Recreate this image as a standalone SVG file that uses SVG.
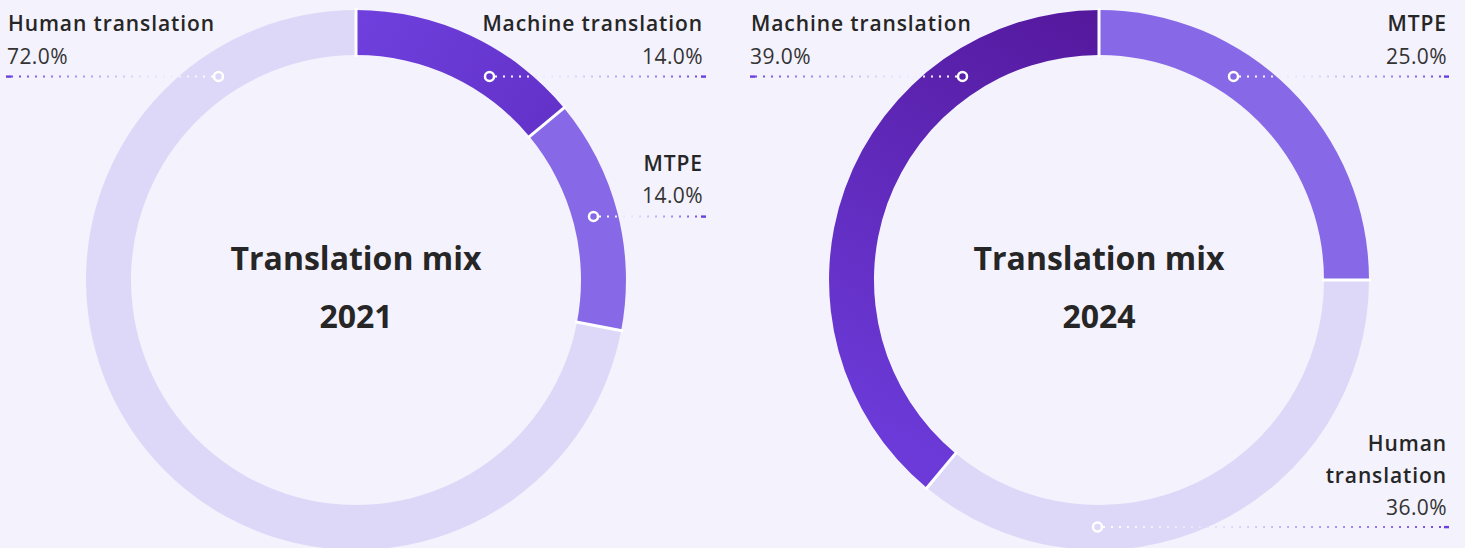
<svg xmlns="http://www.w3.org/2000/svg" width="1465" height="548" viewBox="0 0 1465 548">
  <style>
    .lbl { font-family: "Open Sans", "Liberation Sans", sans-serif; font-size: 21px; font-weight: 600; fill: #262626; letter-spacing: 0.9px; }
    .pct { font-family: "Open Sans", "Liberation Sans", sans-serif; font-size: 21px; font-weight: 400; fill: #333333; letter-spacing: 0.4px; }
    .title { font-family: "Open Sans", "Liberation Sans", sans-serif; font-size: 32px; font-weight: 700; fill: #262626; text-anchor: middle; }
    .end { text-anchor: end; }
    .sep { stroke: #ffffff; stroke-width: 3; }
    .lead { fill: none; stroke-width: 2.2; stroke-dasharray: 2 6; }
    .pin { fill: none; stroke: #ffffff; stroke-width: 2.5; }
    .cap { fill: #6A3FE0; }
    .light { fill: #DDD8F8; }
    .mtpe { fill: #8769E8; }
  </style>
  <defs>
    <linearGradient id="mtLeft" gradientUnits="userSpaceOnUse" x1="356" y1="10" x2="560" y2="135">
      <stop offset="0" stop-color="#7040DE"/>
      <stop offset="1" stop-color="#6231C8"/>
    </linearGradient>
    <linearGradient id="mtRight" gradientUnits="userSpaceOnUse" x1="1099" y1="10" x2="860" y2="420">
      <stop offset="0" stop-color="#54189C"/>
      <stop offset="1" stop-color="#6B3AD8"/>
    </linearGradient>
    <!-- leader gradients: white at the pin, purple at the far end -->
    <linearGradient id="g1" gradientUnits="userSpaceOnUse" x1="214" y1="0" x2="8" y2="0">
      <stop offset="0" stop-color="#ffffff"/>
      <stop offset="0.35" stop-color="#E4DEFB"/>
      <stop offset="1" stop-color="#6C44E2"/>
    </linearGradient>
    <linearGradient id="g2" gradientUnits="userSpaceOnUse" x1="494" y1="0" x2="705" y2="0">
      <stop offset="0" stop-color="#ffffff"/>
      <stop offset="0.35" stop-color="#E4DEFB"/>
      <stop offset="1" stop-color="#6C44E2"/>
    </linearGradient>
    <linearGradient id="g3" gradientUnits="userSpaceOnUse" x1="598" y1="0" x2="705" y2="0">
      <stop offset="0" stop-color="#ffffff"/>
      <stop offset="0.35" stop-color="#E4DEFB"/>
      <stop offset="1" stop-color="#6C44E2"/>
    </linearGradient>
    <linearGradient id="g4" gradientUnits="userSpaceOnUse" x1="958" y1="0" x2="751" y2="0">
      <stop offset="0" stop-color="#ffffff"/>
      <stop offset="0.35" stop-color="#E4DEFB"/>
      <stop offset="1" stop-color="#6C44E2"/>
    </linearGradient>
    <linearGradient id="g5" gradientUnits="userSpaceOnUse" x1="1238" y1="0" x2="1448" y2="0">
      <stop offset="0" stop-color="#ffffff"/>
      <stop offset="0.35" stop-color="#E4DEFB"/>
      <stop offset="1" stop-color="#6C44E2"/>
    </linearGradient>
    <linearGradient id="g6" gradientUnits="userSpaceOnUse" x1="1102" y1="0" x2="1448" y2="0">
      <stop offset="0" stop-color="#ffffff"/>
      <stop offset="0.35" stop-color="#E4DEFB"/>
      <stop offset="1" stop-color="#6C44E2"/>
    </linearGradient>
  </defs>

  <rect width="1465" height="548" fill="#F4F2FD"/>

  <!-- 2021 donut -->
  <g id="donut-2021">
    <path id="seg-2021-mt" fill="url(#mtLeft)" d="M356,10 A270,270 0 0 1 564.0,107.9 L529.4,136.6 A225,225 0 0 0 356,55 Z"/>
    <path id="seg-2021-mtpe" class="mtpe" d="M564.0,107.9 A270,270 0 0 1 621.2,330.6 L577.0,322.2 A225,225 0 0 0 529.4,136.6 Z"/>
    <path id="seg-2021-human" class="light" d="M621.2,330.6 A270,270 0 1 1 356,10 L356,55 A225,225 0 1 0 577.0,322.2 Z"/>
    <line class="sep" x1="356" y1="8" x2="356" y2="57"/>
    <line class="sep" x1="565.5" y1="106.6" x2="527.9" y2="137.9"/>
    <line class="sep" x1="623.2" y1="331.0" x2="575.0" y2="321.8"/>
    <text class="title" x="356" y="270">Translation mix</text>
    <text class="title" x="356" y="328">2021</text>
  </g>

  <!-- 2024 donut -->
  <g id="donut-2024">
    <path id="seg-2024-mtpe" class="mtpe" d="M1099,10 A270,270 0 0 1 1369,280 L1324,280 A225,225 0 0 0 1099,55 Z"/>
    <path id="seg-2024-human" class="light" d="M1369,280 A270,270 0 0 1 926.9,488.0 L955.6,453.4 A225,225 0 0 0 1324,280 Z"/>
    <path id="seg-2024-mt" fill="url(#mtRight)" d="M926.9,488.0 A270,270 0 0 1 1099,10 L1099,55 A225,225 0 0 0 955.6,453.4 Z"/>
    <line class="sep" x1="1099" y1="8" x2="1099" y2="57"/>
    <line class="sep" x1="1371" y1="280" x2="1322" y2="280"/>
    <line class="sep" x1="925.6" y1="489.5" x2="956.9" y2="451.9"/>
    <text class="title" x="1099" y="270">Translation mix</text>
    <text class="title" x="1099" y="328">2024</text>
  </g>

  <!-- leader lines and pins -->
  <g id="connectors">
    <line class="lead" stroke="url(#g1)" x1="213" y1="76.5" x2="10" y2="76.5"/>
    <rect class="cap" x="6" y="75.4" width="5" height="2.4"/>
    <circle class="pin" cx="218.5" cy="76.5" r="4.5"/>

    <line class="lead" stroke="url(#g2)" x1="495" y1="76.5" x2="702" y2="76.5"/>
    <rect class="cap" x="701" y="75.4" width="5" height="2.4"/>
    <circle class="pin" cx="489.5" cy="76.5" r="4.5"/>

    <line class="lead" stroke="url(#g3)" x1="599" y1="216.5" x2="702" y2="216.5"/>
    <rect class="cap" x="701" y="215.4" width="5" height="2.4"/>
    <circle class="pin" cx="593.5" cy="216.5" r="4.5"/>

    <line class="lead" stroke="url(#g4)" x1="957" y1="76.5" x2="754" y2="76.5"/>
    <rect class="cap" x="750" y="75.4" width="5" height="2.4"/>
    <circle class="pin" cx="962.5" cy="76.5" r="4.5"/>

    <line class="lead" stroke="url(#g5)" x1="1239" y1="76.5" x2="1445" y2="76.5"/>
    <rect class="cap" x="1444" y="75.4" width="5" height="2.4"/>
    <circle class="pin" cx="1233.5" cy="76.5" r="4.5"/>

    <line class="lead" stroke="url(#g6)" x1="1103" y1="527" x2="1445" y2="527"/>
    <rect class="cap" x="1444" y="525.9" width="5" height="2.4"/>
    <circle class="pin" cx="1097.5" cy="527" r="4.5"/>
  </g>

  <!-- labels -->
  <g id="label-2021-human">
    <text class="lbl" x="8" y="31">Human translation</text>
    <text class="pct" x="7" y="64">72.0%</text>
  </g>
  <g id="label-2021-mt">
    <text class="lbl end" x="703" y="31">Machine translation</text>
    <text class="pct end" x="703" y="64">14.0%</text>
  </g>
  <g id="label-2021-mtpe">
    <text class="lbl end" x="703" y="171">MTPE</text>
    <text class="pct end" x="703" y="203">14.0%</text>
  </g>
  <g id="label-2024-mt">
    <text class="lbl" x="751" y="31">Machine translation</text>
    <text class="pct" x="750" y="64">39.0%</text>
  </g>
  <g id="label-2024-mtpe">
    <text class="lbl end" x="1447" y="31">MTPE</text>
    <text class="pct end" x="1447" y="64">25.0%</text>
  </g>
  <g id="label-2024-human">
    <text class="lbl end" x="1447" y="451">Human</text>
    <text class="lbl end" x="1447" y="483">translation</text>
    <text class="pct end" x="1447" y="515">36.0%</text>
  </g>
</svg>
